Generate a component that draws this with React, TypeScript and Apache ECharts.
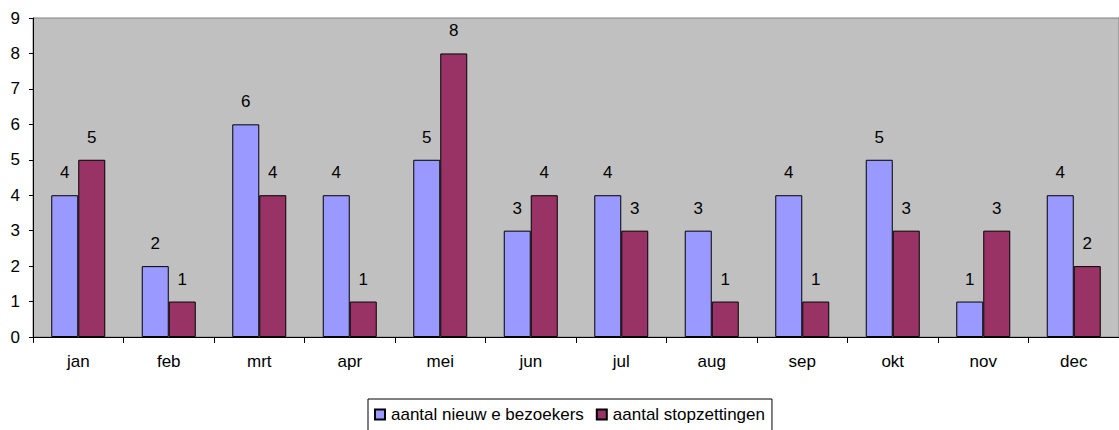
import React, { useEffect, useRef } from "react";
import * as echarts from "echarts";

const months = ["jan", "feb", "mrt", "apr", "mei", "jun", "jul", "aug", "sep", "okt", "nov", "dec"];
const nieuweBezoekers = [4, 2, 6, 4, 5, 3, 4, 3, 4, 5, 1, 4];
const stopzettingen = [5, 1, 4, 1, 8, 4, 3, 1, 1, 3, 3, 2];
const yTicks = [0, 9, 1];
const seriesNames = ["aantal nieuw e bezoekers", "aantal stopzettingen"];

const FONT = "'Liberation Sans', Arial, sans-serif";
const FS = 17;

export default function App() {
  const ref = useRef<HTMLDivElement>(null);
  useEffect(() => {
    if (!ref.current) return;
    const chart = echarts.init(ref.current, undefined, { renderer: "svg" });
    const label = {
      show: true,
      position: "top",
      distance: 14,
      color: "#000",
      fontSize: FS,
      fontFamily: FONT,
    };
    chart.setOption({
      animation: false,
      textStyle: { fontFamily: FONT, color: "#000" },
      grid: {
        left: 33,
        top: 18,
        bottom: 93,
        right: -12,
        show: true,
        backgroundColor: "#C0C0C0",
        borderColor: "#808080",
        borderWidth: 1,
      },
      legend: {
        data: seriesNames,
        left: 368,
        top: 399,
        orient: "horizontal",
        backgroundColor: "#fff",
        borderColor: "#000",
        borderWidth: 1,
        borderRadius: 0,
        padding: [7, 7, 8, 6],
        itemWidth: 10,
        itemHeight: 10,
        itemGap: 12,
        icon: "rect",
        selectedMode: false,
        textStyle: { fontSize: FS, fontFamily: FONT, color: "#000", padding: [0, 0, 0, 1] },
      },
      xAxis: {
        type: "category",
        data: months,
        axisLine: { show: true, lineStyle: { color: "#000", width: 1 } },
        axisTick: { show: true, alignWithLabel: false, length: 6, lineStyle: { color: "#000" } },
        axisLabel: { color: "#000", fontSize: FS, fontFamily: FONT, margin: 16 },
        splitLine: { show: false },
      },
      yAxis: {
        type: "value",
        min: yTicks[0],
        max: yTicks[1],
        interval: yTicks[2],
        axisLine: { show: true, lineStyle: { color: "#000", width: 1 } },
        axisTick: { show: true, length: 4, lineStyle: { color: "#000" } },
        axisLabel: { color: "#000", fontSize: FS, fontFamily: FONT, margin: 13 },
        splitLine: { show: false },
      },
      series: [
        {
          name: seriesNames[0],
          type: "bar",
          data: nieuweBezoekers,
          barWidth: 27,
          barGap: "0%",
          itemStyle: { color: "#9999FF", borderColor: "#000", borderWidth: 1 },
          label,
        },
        {
          name: seriesNames[1],
          type: "bar",
          data: stopzettingen,
          barWidth: 27,
          barGap: "0%",
          itemStyle: { color: "#993366", borderColor: "#000", borderWidth: 1 },
          label,
        },
      ],
    });
    return () => chart.dispose();
  }, []);
  return (
    <div
      ref={ref}
      style={{ position: "fixed", left: 0, top: 0, width: 1119, height: 430, background: "#fff" }}
    />
  );
}
